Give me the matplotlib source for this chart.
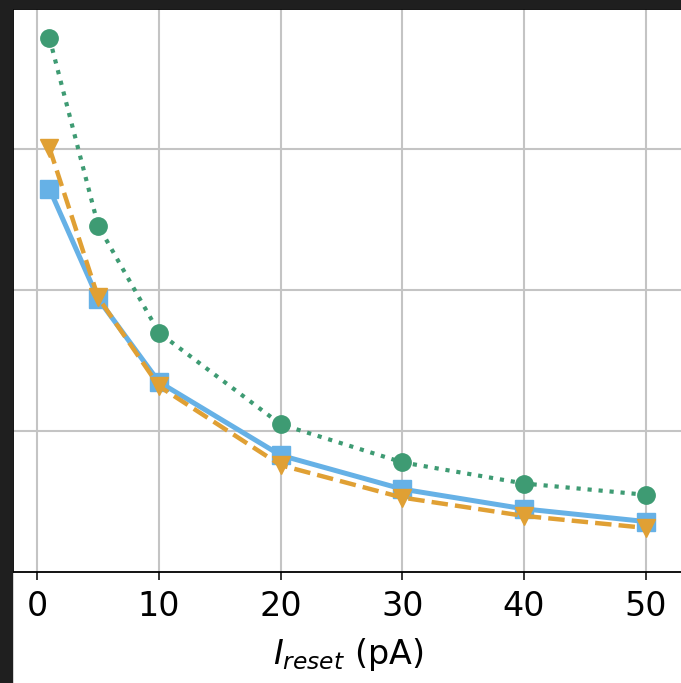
import matplotlib
matplotlib.use("Agg")
import matplotlib.pyplot as plt
from matplotlib.patches import Rectangle

# reset current values (pA)
i_reset = [1, 5, 10, 20, 30, 40, 50]

# three curves (arbitrary y units)
series_circle = [3.79, 2.46, 1.70, 1.05, 0.78, 0.63, 0.55]
series_square = [2.72, 1.94, 1.35, 0.83, 0.59, 0.45, 0.36]
series_tri = [3.01, 1.95, 1.32, 0.76, 0.53, 0.40, 0.315]

x_ticks = [0, 10, 20, 30, 40, 50]
y_ticks = [1, 2, 3]

W, H = 681, 683
fig = plt.figure(figsize=(W / 100, H / 100), dpi=100)
fig.patch.set_facecolor("white")

# axes placed in pixel terms; it runs past the right edge like the reference crop
left, bottom, top = 12.7, 683 - 572.3, 8.5
right_px = W + 30
ax = fig.add_axes([left / W, bottom / H, (right_px - left) / W, (H - top - bottom) / H])

ax.plot(i_reset, series_square, color="#66b1e6", lw=3.6, ls="-",
        marker="s", ms=12.5, zorder=3)
ax.plot(i_reset, series_tri, color="#e0a034", lw=3.2, ls="--",
        marker="v", ms=13, zorder=4)
ax.plot(i_reset, series_circle, color="#3e9b73", lw=3.0, ls=":",
        marker="o", ms=12.5, zorder=3)

ax.set_xlim((left - 37.3) / 12.17, (right_px - 37.3) / 12.17)
ax.set_ylim(0, 4)
ax.set_xticks(x_ticks)
ax.set_yticks(y_ticks)
ax.grid(True, color="#c4c4c4", lw=1.5)
ax.set_axisbelow(True)

ax.tick_params(axis="x", labelsize=24, length=6, width=1.1, pad=7)
ax.tick_params(axis="y", length=0, labelleft=False)
for s in ax.spines.values():
    s.set_linewidth(1.3)

ax.set_xlabel(r"$I_{reset}$ (pA)", fontsize=24, labelpad=9)
# centre the label where it sits in the reference (axes is wider than the crop)
ax.xaxis.label.set_x((348 - left) / (right_px - left))

# dark frame strips seen on the left and top of the reference
fig.add_artist(Rectangle((0, 0), 12 / W, 1, transform=fig.transFigure,
                         color="#1f1f1f", zorder=10))
fig.add_artist(Rectangle((0, 1 - 7.5 / H), 1, 7.5 / H, transform=fig.transFigure,
                         color="#1f1f1f", zorder=10))

fig.savefig("out.png", dpi=100)
